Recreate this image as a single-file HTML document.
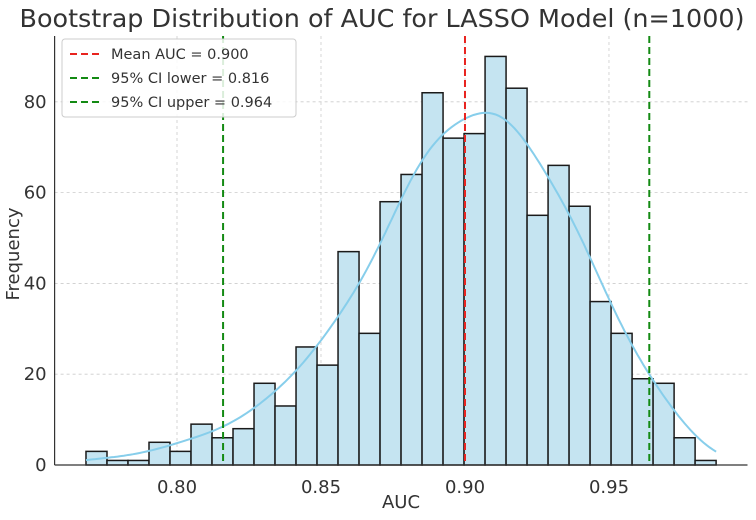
<!DOCTYPE html>
<html><head><meta charset="utf-8"><style>
body{margin:0;background:#fff;font-family:"Liberation Sans","DejaVu Sans",sans-serif}
</style></head><body>
<svg id="chart" width="756" height="515" xmlns="http://www.w3.org/2000/svg" font-family="DejaVu Sans, Liberation Sans, sans-serif"></svg>
<script>
const counts=[3,1,1,5,3,9,6,8,18,13,26,22,47,29,58,64,82,72,73,90,83,55,66,57,36,29,19,18,6,1];
const binStart=0.7684, binEnd=0.9872;
const yTicks=[0,20,40,60,80];
const xTicks=[0.80,0.85,0.90,0.95];
const meanAUC=0.900, ciLower=0.816, ciUpper=0.964;

const L=54.6,R=747.5,T=36,B=465;
const xMin=0.7575,xMax=0.9981,yMax=94.5;
const sx=v=>L+(v-xMin)/(xMax-xMin)*(R-L);
const sy=v=>B-v/yMax*(B-T);
const svg=document.getElementById('chart');
const NS='http://www.w3.org/2000/svg';
function mk(tag,attrs,parent){const e=document.createElementNS(NS,tag);for(const k in attrs)e.setAttribute(k,attrs[k]);(parent||svg).appendChild(e);return e;}

xTicks.forEach(t=>{const g=mk('line',{x1:sx(t),x2:sx(t),y1:T,y2:B,stroke:'#ccc','stroke-dasharray':'3,3','stroke-width':0.8});

});
yTicks.forEach(t=>{const g=mk('line',{x1:L,x2:R,y1:sy(t),y2:sy(t),stroke:'#ccc','stroke-dasharray':'3,3','stroke-width':0.8});

});

const bw=(binEnd-binStart)/counts.length;
counts.forEach((c,i)=>{const x0=binStart+i*bw;
const r=mk('rect',{x:sx(x0),y:sy(c),width:sx(x0+bw)-sx(x0),height:B-sy(c),fill:'#c5e4f1',stroke:'#1a1a1a','stroke-width':1.5});

});

let n=0,mu=0;counts.forEach((c,i)=>{n+=c;mu+=c*(binStart+(i+0.5)*bw);});mu/=n;
let v=0;counts.forEach((c,i)=>{const m=binStart+(i+0.5)*bw;v+=c*(m-mu)*(m-mu);});
const sd=Math.sqrt(v/(n-1));const h=sd*Math.pow(n,-0.2)*1.2;
let pts=[];for(let k=0;k<=200;k++){const x=binStart+(binEnd-binStart)*k/200;let d=0;
counts.forEach((c,i)=>{const m=binStart+(i+0.5)*bw;const z=(x-m)/h;d+=c*Math.exp(-0.5*z*z);});
d=d/(n*h*Math.sqrt(2*Math.PI));pts.push(sx(x).toFixed(1)+','+sy(d*n*bw).toFixed(1));}
const kde=mk('polyline',{points:pts.join(' '),fill:'none',stroke:'#87ceeb','stroke-width':2});



[[meanAUC,'#e8231f','mean-auc-line'],[ciLower,'#138a13','ci-lower-line'],[ciUpper,'#138a13','ci-upper-line']].forEach(([val,col,name])=>{
const l=mk('line',{x1:sx(val),x2:sx(val),y1:T,y2:B,stroke:col,'stroke-width':2,'stroke-dasharray':'7,4'});

});

const ax=mk('line',{x1:L,x2:R,y1:B,y2:B,stroke:'#333','stroke-width':1.2});


const ay=mk('line',{x1:L,x2:L,y1:T,y2:B,stroke:'#333','stroke-width':1.2});


xTicks.forEach(t=>{const tx=mk('text',{x:sx(t),y:B+28,'text-anchor':'middle','font-size':18,fill:'#333'});tx.textContent=t.toFixed(2);

});
yTicks.forEach(t=>{const tx=mk('text',{x:L-8,y:sy(t)+6,'text-anchor':'end','font-size':18,fill:'#333'});tx.textContent=t;

});
</script>
<svg style="position:absolute;left:0;top:0" width="756" height="515" xmlns="http://www.w3.org/2000/svg" font-family="DejaVu Sans, Liberation Sans, sans-serif">
<text x="382" y="27" text-anchor="middle" font-size="25" fill="#333" textLength="725" lengthAdjust="spacingAndGlyphs">Bootstrap Distribution of AUC for LASSO Model (n=1000)</text>
<text x="401" y="508" text-anchor="middle" font-size="18" fill="#333">AUC</text>
<text transform="translate(19,254) rotate(-90)" text-anchor="middle" font-size="18" fill="#333">Frequency</text>
<g>
<rect x="62" y="39" width="234" height="78" rx="3" fill="#fff" fill-opacity="0.85" stroke="#ccc"/>
<line x1="70" x2="100" y1="54" y2="54" stroke="#e8231f" stroke-width="2" stroke-dasharray="7,4"/>
<text x="111" y="59" font-size="14.5" fill="#333">Mean AUC = 0.900</text>
<line x1="70" x2="100" y1="78" y2="78" stroke="#138a13" stroke-width="2" stroke-dasharray="7,4"/>
<text x="111" y="83" font-size="14.5" fill="#333">95% CI lower = 0.816</text>
<line x1="70" x2="100" y1="102" y2="102" stroke="#138a13" stroke-width="2" stroke-dasharray="7,4"/>
<text x="111" y="107" font-size="14.5" fill="#333">95% CI upper = 0.964</text>
</g>
</svg>
</body></html>
